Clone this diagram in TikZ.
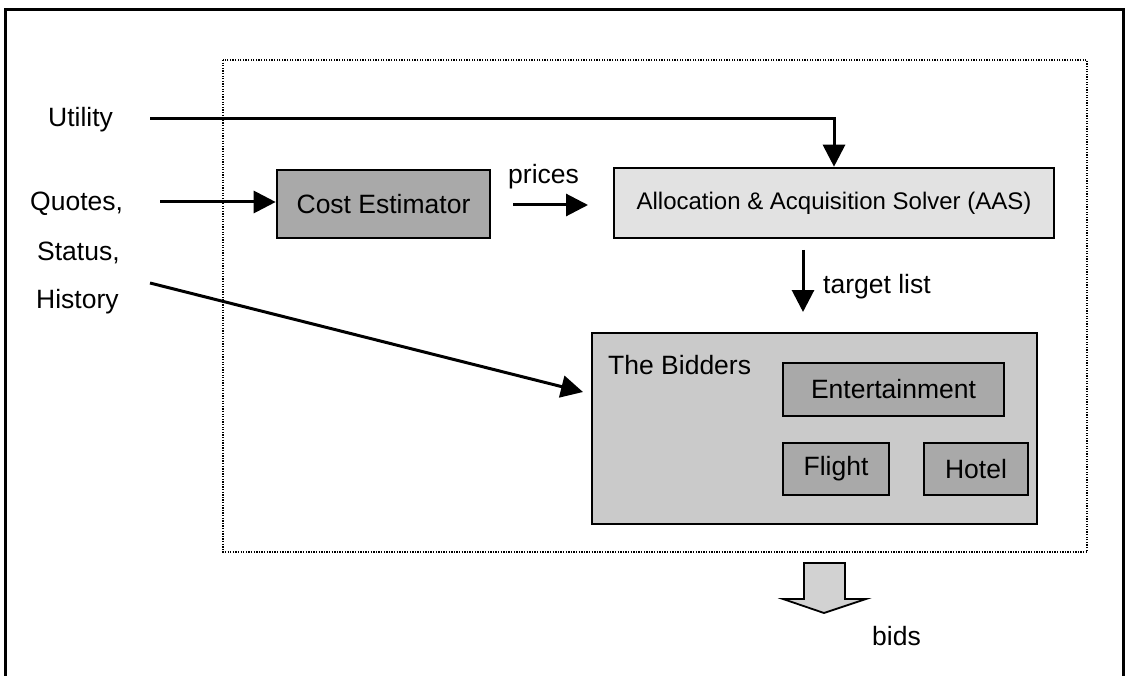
\documentclass[tikz,border=0pt]{standalone}
\usepackage{fontspec}
\setmainfont{Liberation Sans}
\usetikzlibrary{arrows.meta,calc}
\definecolor{darkbox}{HTML}{A9A9A9}
\definecolor{lightbox}{HTML}{E2E2E2}
\definecolor{midbox}{HTML}{CACACA}
\definecolor{arrowfill}{HTML}{D2D2D2}
\tikzset{
  px/.style={x=1pt,y=-1pt},
  box/.style={draw=black,line width=2.6pt,inner sep=0pt,anchor=center},
  lbl/.style={inner sep=0pt,font=\fontsize{26.5}{30}\selectfont},
  arr/.style={line width=3pt,-{Triangle[length=22pt,width=22pt]}},
}
\begin{document}
\begin{tikzpicture}[px]
\useasboundingbox (0,0) rectangle (1126,676);
\fill[white] (0,0) rectangle (1126,676);
% outer frame
\draw[line width=3pt] (5,676) -- (5,10) -- (1123,10) -- (1123,676);
% dotted system boundary
\draw[line width=2.2pt,dash pattern=on 1.3pt off 1.3pt] (223,60) rectangle (1087,552);
% boxes
\node[box,fill=darkbox,minimum width=213pt,minimum height=68pt,font=\fontsize{26.5}{30}\selectfont] (cost) at (383.5,204) {Cost Estimator};
\node[box,fill=lightbox,minimum width=440pt,minimum height=70pt,font=\fontsize{24}{28}\selectfont] (aas) at (834,203) {Allocation \& Acquisition Solver (AAS)};
\node[box,fill=midbox,minimum width=445pt,minimum height=191pt] (bidders) at (814.5,428.5) {};
\node[lbl,anchor=base west] (biddersl) at (608,374) {The Bidders};
\node[box,fill=darkbox,minimum width=221pt,minimum height=53pt,font=\fontsize{26.5}{30}\selectfont] (ent) at (893.5,389.5) {Entertainment};
\node[box,fill=darkbox,minimum width=106pt,minimum height=52pt,font=\fontsize{26.5}{30}\selectfont] (flight) at (836,469) {Flight};
\node[box,fill=darkbox,minimum width=104pt,minimum height=52pt,font=\fontsize{26.5}{30}\selectfont] (hotel) at (976,469) {Hotel};
% labels
\node[lbl,anchor=base west] (utility) at (48,127) {Utility};
\node[lbl,anchor=base west] (quotes) at (30,211) {Quotes,};
\node[lbl,anchor=base west] (status) at (37,260) {Status,};
\node[lbl,anchor=base west] (history) at (36,308) {History};
\node[lbl,anchor=base west] (prices) at (508,184) {prices};
\node[lbl,anchor=base west] (target) at (823,293) {target list};
\node[lbl,anchor=base west] (bids) at (872,645) {bids};
% connector end points
\coordinate (uStart) at (150,119);
\coordinate (qStart) at (160,202);
\coordinate (hStart) at (150,283);
\coordinate (hEnd) at (583,392);
\coordinate (pStart) at (513,205);
\coordinate (pEnd) at (588,205);
\coordinate (tStart) at (803,250);
\coordinate (tEnd) at (803,312);
% connectors
\draw[arr] (uStart) -| (aas.north);
\draw[arr] (qStart) -- (qStart -| cost.west);
\draw[arr] (pStart) -- (pEnd);
\draw[arr] (tStart) -- (tEnd);
\draw[arr] (hStart) -- (hEnd);
% bids block arrow
\draw[line width=1.8pt,fill=arrowfill,line join=miter]
  (804,563) -- (845,563) -- (845,599) -- (866,599) -- (824,613) -- (783,599) -- (804,599) -- cycle;
\end{tikzpicture}
\end{document}
